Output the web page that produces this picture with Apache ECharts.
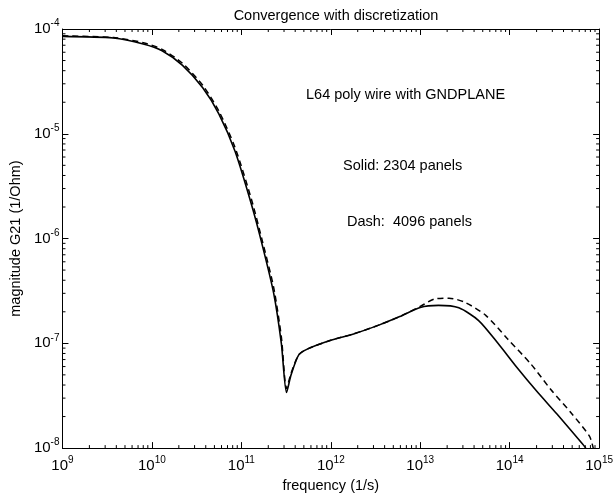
<!DOCTYPE html>
<html><head><meta charset="utf-8">
<script src="https://cdn.jsdelivr.net/npm/echarts@6/dist/echarts.min.js"></script>
<style>html,body{margin:0;padding:0;background:#fff}#c{width:616px;height:498px}</style>
</head><body><div id="c"></div>
<script>
const titleText = 'Convergence with discretization';
const xName = 'frequency (1/s)';
const yName = 'magnitude G21 (1/Ohm)';
const notes = ['L64 poly wire with GNDPLANE', 'Solid: 2304 panels', 'Dash:  4096 panels'];

const freqSolid = [1e9, 3.7e9, 8e9, 1.3e10, 2.2e10, 3.7e10, 5.6e10, 8.5e10, 1.3e11, 1.7e11, 2.3e11, 2.8e11, 3.2e11, 3.6e11, 4.4e11, 5.6e11, 1e12, 1.8e12, 3.5e12, 5.9e12, 1e13, 1.6e13, 2.7e13, 4.5e13, 7.4e13, 1.2e14, 2e14, 3.4e14, 6.5e14, 7.1e14];
const magSolid = [8.5e-5, 8.2e-5, 7.2e-5, 6.2e-5, 4.5e-5, 2.75e-5, 1.55e-5, 6.8e-6, 2.1e-6, 8.9e-7, 3.0e-7, 1.0e-7, 3.4e-8, 5.0e-8, 7.8e-8, 8.9e-8, 1.07e-7, 1.23e-7, 1.5e-7, 1.8e-7, 2.2e-7, 2.3e-7, 2.18e-7, 1.65e-7, 1.0e-7, 5.9e-8, 3.5e-8, 2.1e-8, 1.1e-8, 1.0e-8];

const freqDash = [1e9, 3.7e9, 8e9, 1.3e10, 2.2e10, 3.7e10, 5.6e10, 8.5e10, 1.3e11, 1.7e11, 2.3e11, 2.8e11, 3.2e11, 3.6e11, 4.4e11, 5.6e11, 1e12, 1.8e12, 3.5e12, 5.9e12, 1e13, 1.45e13, 2.1e13, 3.2e13, 5.4e13, 9.5e13, 1.74e14, 2.9e14, 4.8e14, 7.8e14, 8.6e14];
const magDash = [8.6e-5, 8.3e-5, 7.4e-5, 6.4e-5, 4.7e-5, 2.9e-5, 1.65e-5, 7.4e-6, 2.35e-6, 9.8e-7, 3.4e-7, 1.15e-7, 3.7e-8, 5.2e-8, 7.8e-8, 8.9e-8, 1.07e-7, 1.23e-7, 1.5e-7, 1.8e-7, 2.25e-7, 2.65e-7, 2.7e-7, 2.45e-7, 1.85e-7, 1.1e-7, 6.3e-8, 3.6e-8, 2.2e-8, 1.3e-8, 1.0e-8];

const xMin = 1e9, xMax = 1e15, yMin = 1e-8, yMax = 1e-4;
const minorX = [];
for (let e = 9; e < 15; e++) for (let k = 2; k <= 9; k++) minorX.push(k * Math.pow(10, e));
const minorY = [];
for (let e = -8; e < -4; e++) for (let k = 2; k <= 9; k++) minorY.push(k * Math.pow(10, e));

const FONT = 'Liberation Sans';
function pow10Label(v) {
  const e = Math.round(Math.log10(v));
  return '{b|10}{s|' + e + '}';
}
const richLab = {
  b: {fontFamily: FONT, fontSize: 15, color: '#000'},
  s: {fontFamily: FONT, fontSize: 10, color: '#000', verticalAlign: 'bottom', padding: [0, 0, 11, 0]}
};
const axLine = {show: true, onZero: false, lineStyle: {color: '#000', width: 1}};
const axTick = {show: true, inside: true, length: 6, lineStyle: {color: '#000', width: 1}};

const chart = echarts.init(document.getElementById('c'), null, {renderer: 'canvas'});
chart.setOption({
  animation: false,
  backgroundColor: '#fff',
  title: {text: titleText, left: 331, textAlign: 'center', top: 3,
    textStyle: {fontFamily: FONT, fontSize: 14.5, fontWeight: 'normal', color: '#000'}},
  grid: {left: 58, right: 14, top: 29, bottom: 43, containLabel: false},
  xAxis: [
    {type: 'log', logBase: 10, min: xMin, max: xMax, splitNumber: 6, position: 'bottom',
     name: xName, nameLocation: 'middle', nameGap: 26,
     nameTextStyle: {fontFamily: FONT, fontSize: 14.5, color: '#000'},
     axisLine: axLine, axisTick: axTick, splitLine: {show: false}, minorTick: {show: false},
     axisLabel: {formatter: pow10Label, rich: richLab, margin: 7, showMinLabel: true, showMaxLabel: true}},
    {type: 'log', logBase: 10, min: xMin, max: xMax, splitNumber: 6, position: 'top',
     axisLine: axLine, axisTick: axTick, splitLine: {show: false}, axisLabel: {show: false}}
  ],
  yAxis: [
    {type: 'log', logBase: 10, min: yMin, max: yMax, splitNumber: 4, position: 'left',
     name: yName, nameLocation: 'middle', nameGap: 38, nameRotate: 90,
     nameTextStyle: {fontFamily: FONT, fontSize: 14.5, color: '#000'},
     axisLine: axLine, axisTick: axTick, splitLine: {show: false},
     axisLabel: {formatter: pow10Label, rich: richLab, margin: 3}},
    {type: 'log', logBase: 10, min: yMin, max: yMax, splitNumber: 4, position: 'right',
     axisLine: axLine, axisTick: axTick, splitLine: {show: false}, axisLabel: {show: false}}
  ],
  graphic: [
    {type: 'text', left: 306, top: 87, style: {text: notes[0], fontFamily: FONT, fontSize: 14.5, fill: '#000'}},
    {type: 'text', left: 343, top: 158, style: {text: notes[1], fontFamily: FONT, fontSize: 14.5, fill: '#000'}},
    {type: 'text', left: 347, top: 214, style: {text: notes[2], fontFamily: FONT, fontSize: 14.5, fill: '#000'}}
  ],
  series: [
    {type: 'line', name: 'dash', data: freqDash.map((f, i) => [f, magDash[i]]),
     showSymbol: false, smooth: 0.25, clip: true,
     lineStyle: {color: '#000', width: 1.5, type: [6, 4]}},
    {type: 'line', name: 'solid', data: freqSolid.map((f, i) => [f, magSolid[i]]),
     showSymbol: false, smooth: 0.25, clip: true,
     lineStyle: {color: '#000', width: 1.6, type: 'solid'}},
    {type: 'custom', name: 'minorX', clip: false, silent: true,
     data: minorX.map(v => [v, yMin]),
     renderItem: function (params, api) {
       const b = api.coord([api.value(0), yMin]);
       const t = api.coord([api.value(0), yMax]);
       return {type: 'group', children: [
         {type: 'line', shape: {x1: b[0], y1: b[1], x2: b[0], y2: b[1] - 3}, style: {stroke: '#000', lineWidth: 1}},
         {type: 'line', shape: {x1: t[0], y1: t[1], x2: t[0], y2: t[1] + 3}, style: {stroke: '#000', lineWidth: 1}}
       ]};
     }},
    {type: 'custom', name: 'minorY', clip: false, silent: true,
     data: minorY.map(v => [xMin, v]),
     renderItem: function (params, api) {
       const l = api.coord([xMin, api.value(1)]);
       const r = api.coord([xMax, api.value(1)]);
       return {type: 'group', children: [
         {type: 'line', shape: {x1: l[0], y1: l[1], x2: l[0] + 3, y2: l[1]}, style: {stroke: '#000', lineWidth: 1}},
         {type: 'line', shape: {x1: r[0], y1: r[1], x2: r[0] - 3, y2: r[1]}, style: {stroke: '#000', lineWidth: 1}}
       ]};
     }}
  ]
});
</script></body></html>
